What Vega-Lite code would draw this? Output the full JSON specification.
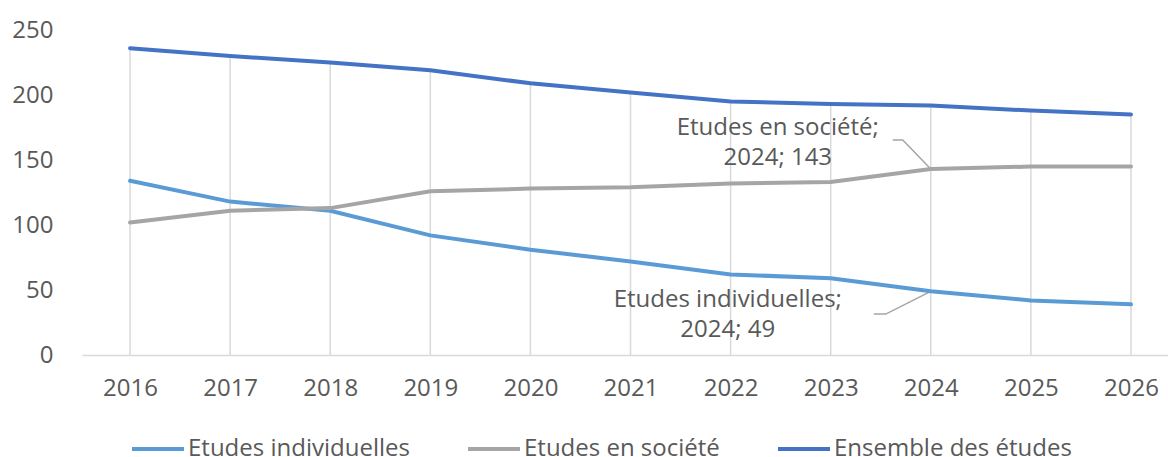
{
  "$schema": "https://vega.github.io/schema/vega-lite/v6.json",
  "autosize": "none",
  "width": 1086,
  "height": 325,
  "padding": {"left": 82, "top": 30, "right": 0, "bottom": 102},
  "background": "white",
  "config": {
    "view": {"stroke": null},
    "font": "Open Sans",
    "axis": {"labelFont": "Open Sans", "labelFontSize": 24, "labelColor": "#595959"},
    "legend": {"labelFont": "Open Sans", "labelFontSize": 24, "labelColor": "#595959", "labelLimit": 0}
  },
  "datasets": {
    "series": [
      {"year": 2016, "series": "Etudes individuelles", "value": 134},
      {"year": 2017, "series": "Etudes individuelles", "value": 118},
      {"year": 2018, "series": "Etudes individuelles", "value": 111},
      {"year": 2019, "series": "Etudes individuelles", "value": 92},
      {"year": 2020, "series": "Etudes individuelles", "value": 81},
      {"year": 2021, "series": "Etudes individuelles", "value": 72},
      {"year": 2022, "series": "Etudes individuelles", "value": 62},
      {"year": 2023, "series": "Etudes individuelles", "value": 59},
      {"year": 2024, "series": "Etudes individuelles", "value": 49},
      {"year": 2025, "series": "Etudes individuelles", "value": 42},
      {"year": 2026, "series": "Etudes individuelles", "value": 39},
      {"year": 2016, "series": "Etudes en société", "value": 102},
      {"year": 2017, "series": "Etudes en société", "value": 111},
      {"year": 2018, "series": "Etudes en société", "value": 113},
      {"year": 2019, "series": "Etudes en société", "value": 126},
      {"year": 2020, "series": "Etudes en société", "value": 128},
      {"year": 2021, "series": "Etudes en société", "value": 129},
      {"year": 2022, "series": "Etudes en société", "value": 132},
      {"year": 2023, "series": "Etudes en société", "value": 133},
      {"year": 2024, "series": "Etudes en société", "value": 143},
      {"year": 2025, "series": "Etudes en société", "value": 145},
      {"year": 2026, "series": "Etudes en société", "value": 145},
      {"year": 2016, "series": "Ensemble des études", "value": 236},
      {"year": 2017, "series": "Ensemble des études", "value": 230},
      {"year": 2018, "series": "Ensemble des études", "value": 225},
      {"year": 2019, "series": "Ensemble des études", "value": 219},
      {"year": 2020, "series": "Ensemble des études", "value": 209},
      {"year": 2021, "series": "Ensemble des études", "value": 202},
      {"year": 2022, "series": "Ensemble des études", "value": 195},
      {"year": 2023, "series": "Ensemble des études", "value": 193},
      {"year": 2024, "series": "Ensemble des études", "value": 192},
      {"year": 2025, "series": "Ensemble des études", "value": 188},
      {"year": 2026, "series": "Ensemble des études", "value": 185}
    ],
    "labels": [
      {"series": "Etudes en société", "year": 2024, "value": 143, "label": ["Etudes en société;", "2024; 143"]},
      {"series": "Etudes individuelles", "year": 2024, "value": 49, "label": ["Etudes individuelles;", "2024; 49"]}
    ],
    "leaders": [
      {"leader": "soc", "order": 1, "year": 2023.62, "value": 165.4},
      {"leader": "soc", "order": 2, "year": 2023.72, "value": 165.4},
      {"leader": "soc", "order": 3, "year": 2024, "value": 143},
      {"leader": "ind", "order": 1, "year": 2023.43, "value": 31.5},
      {"leader": "ind", "order": 2, "year": 2023.55, "value": 31.5},
      {"leader": "ind", "order": 3, "year": 2024, "value": 49}
    ]
  },
  "encoding": {
    "x": {
      "field": "year", "type": "quantitative",
      "scale": {"domain": [2015.52, 2026.37], "nice": false, "zero": false},
      "axis": {
        "title": null, "values": [2016, 2017, 2018, 2019, 2020, 2021, 2022, 2023, 2024, 2025, 2026],
        "format": "d", "grid": false, "ticks": false, "domainColor": "#d9d9d9", "domainWidth": 1.5,
        "labelPadding": 21
      }
    },
    "y": {
      "field": "value", "type": "quantitative",
      "scale": {"domain": [0, 250], "nice": false},
      "axis": {
        "title": null, "values": [0, 50, 100, 150, 200, 250], "grid": false, "ticks": false,
        "domain": false, "labelPadding": 29
      }
    }
  },
  "layer": [
    {
      "data": {"name": "series"},
      "transform": [{"filter": "datum.series === 'Ensemble des études'"}],
      "mark": {"type": "rule", "color": "#d9d9d9", "strokeWidth": 1.5},
      "encoding": {"y2": {"datum": 0}}
    },
    {
      "data": {"name": "leaders"},
      "mark": {"type": "line", "color": "#a5a5a5", "strokeWidth": 1.5},
      "encoding": {"detail": {"field": "leader"}, "order": {"field": "order"}}
    },
    {
      "data": {"name": "series"},
      "mark": {"type": "line", "strokeWidth": 4, "strokeCap": "round"},
      "encoding": {
        "color": {
          "field": "series", "type": "nominal",
          "scale": {
            "domain": ["Etudes individuelles", "Etudes en société", "Ensemble des études"],
            "range": ["#5b9bd5", "#a5a5a5", "#4472c4"]
          },
          "legend": {
            "title": null, "orient": "none", "direction": "horizontal",
            "legendX": 48, "legendY": 391,
            "symbolType": "stroke", "symbolSize": 2704, "symbolStrokeWidth": 4,
            "labelOffset": 2, "columnPadding": 50
          }
        }
      }
    },
    {
      "data": {"name": "labels"},
      "transform": [{"filter": "datum.series === 'Etudes en société'"}],
      "mark": {"type": "text", "fontSize": 24, "color": "#595959", "align": "center", "baseline": "middle", "lineHeight": 30, "dx": -153, "dy": -41},
      "encoding": {"text": {"field": "label"}}
    },
    {
      "data": {"name": "labels"},
      "transform": [{"filter": "datum.series === 'Etudes individuelles'"}],
      "mark": {"type": "text", "fontSize": 24, "color": "#595959", "align": "center", "baseline": "middle", "lineHeight": 30, "dx": -203, "dy": 9},
      "encoding": {"text": {"field": "label"}}
    }
  ]
}
